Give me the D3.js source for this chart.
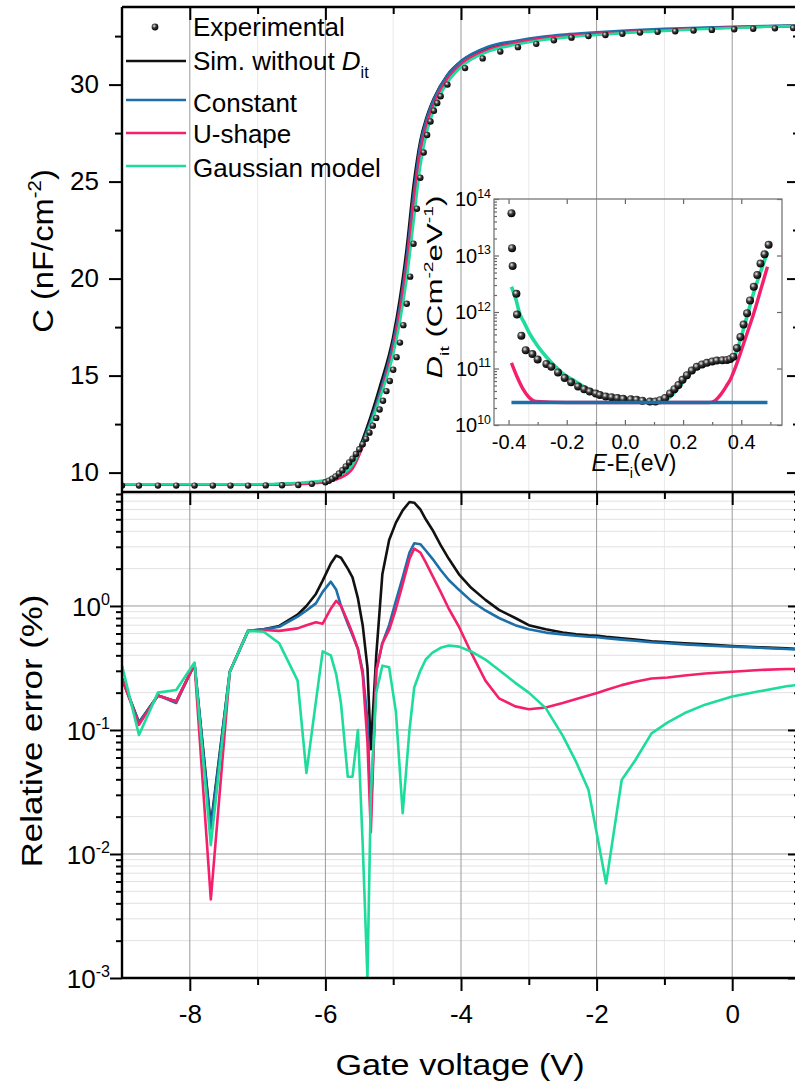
<!DOCTYPE html>
<html>
<head>
<meta charset="utf-8">
<script src="https://cdn.jsdelivr.net/npm/d3@7"></script>
<style>
  body { margin: 0; background: #fff; }
  svg { display: block; font-family: "Liberation Sans", Arial, sans-serif; }
</style>
</head>
<body>
<div id="chart"></div>
<script>
// ---- data ----
const seriesNames = ["Experimental", "Sim. without D_it", "Constant", "U-shape", "Gaussian model"];

// top panel: C-V curves (nF/cm^2)
const vTop = [-9, -8.5, -8, -7.5, -7, -6.5, -6.2, -6, -5.8, -5.6, -5.4, -5.2, -5.0, -4.9, -4.8, -4.7, -4.6, -4.5, -4.4, -4.2, -4.0, -3.6, -3.2, -2.8, -2.4, -2.0, -1.5, -1.0, -0.5, 0, 0.5, 1];
const cNoDit = [9.38, 9.38, 9.38, 9.38, 9.39, 9.42, 9.48, 9.58, 9.85, 10.45, 12.2, 14.4, 17.0, 19.0, 21.6, 24.8, 27.1, 28.4, 29.3, 30.5, 31.2, 31.9, 32.2, 32.42, 32.55, 32.65, 32.75, 32.83, 32.9, 32.96, 33.0, 33.03];
const cConst = [9.38, 9.38, 9.38, 9.38, 9.39, 9.42, 9.48, 9.58, 9.83, 10.4, 12.0, 14.1, 16.7, 18.6, 21.1, 24.3, 26.9, 28.3, 29.25, 30.5, 31.2, 31.95, 32.25, 32.47, 32.6, 32.7, 32.8, 32.87, 32.93, 32.98, 33.02, 33.05];
const cUshape = [9.38, 9.38, 9.38, 9.38, 9.38, 9.4, 9.44, 9.5, 9.7, 10.2, 11.8, 13.9, 16.4, 18.3, 20.7, 23.8, 26.5, 28.0, 29.0, 30.3, 31.05, 31.8, 32.15, 32.38, 32.52, 32.62, 32.72, 32.8, 32.88, 32.94, 32.99, 33.02];
const cGauss = [9.4, 9.4, 9.4, 9.4, 9.4, 9.45, 9.52, 9.62, 9.85, 10.4, 11.9, 13.8, 16.1, 17.8, 20.0, 22.9, 25.8, 27.6, 28.7, 30.1, 30.9, 31.7, 32.05, 32.3, 32.45, 32.56, 32.68, 32.77, 32.85, 32.92, 32.98, 33.02];

// experimental C-V points
const vExp = [-9.0, -8.75, -8.47, -8.2, -7.93, -7.66, -7.4, -7.14, -6.88, -6.64, -6.4, -6.2,
  -6.0, -5.95, -5.9, -5.85, -5.8, -5.75, -5.7, -5.65, -5.6, -5.55, -5.5, -5.45, -5.4, -5.35, -5.3, -5.25, -5.2, -5.15, -5.1, -5.05,
  -5.0, -4.95, -4.9, -4.85, -4.8, -4.75, -4.7, -4.65, -4.6, -4.55, -4.5, -4.45, -4.4, -4.35, -4.3,
  -4.2, -3.94, -3.68, -3.42, -3.16, -2.89, -2.63, -2.37, -2.12, -1.87, -1.62, -1.36, -1.1, -0.84, -0.57, -0.3, 0.03, 0.31, 0.63, 0.9];
const cExp = [9.33, 9.33, 9.33, 9.33, 9.33, 9.33, 9.33, 9.33, 9.34, 9.35, 9.36, 9.42,
  9.5, 9.58, 9.68, 9.8, 9.95, 10.12, 10.32, 10.52, 10.72, 10.96, 11.2, 11.46, 11.74, 12.06, 12.42, 12.82, 13.25, 13.7, 14.2, 14.72,
  15.3, 15.95, 16.7, 17.6, 18.7, 20.1, 21.8, 23.6, 25.2, 26.5, 27.4, 28.1, 28.65, 29.05, 29.4,
  30.0, 30.85, 31.35, 31.7, 31.93, 32.1, 32.28, 32.42, 32.5, 32.56, 32.62, 32.68, 32.72, 32.75, 32.79, 32.82, 32.85, 32.88, 32.9, 32.92];

// bottom panel: relative error (%)
const vErr = [-9, -8.75, -8.47, -8.2, -7.93, -7.69, -7.41, -7.14, -6.91, -6.68, -6.41, -6.28, -6.14, -6.04, -5.92, -5.84, -5.77, -5.67, -5.6, -5.52, -5.45, -5.38, -5.33, -5.25, -5.16, -5.06, -4.96, -4.86, -4.76, -4.69, -4.6, -4.52, -4.42, -4.3, -4.18, -4.03, -3.85, -3.64, -3.44, -3.2, -3.0, -2.75, -2.5, -2.3, -2.12, -1.98, -1.86, -1.63, -1.43, -1.19, -0.95, -0.7, -0.4, 0, 0.4, 0.8, 1.0];
const errNoDit = [0.26, 0.115, 0.19, 0.17, 0.34, 0.017, 0.295, 0.63, 0.65, 0.69, 0.85, 1.0, 1.25, 1.6, 2.2, 2.55, 2.45, 2.0, 1.7, 1.15, 0.7, 0.32, 0.07, 0.4, 1.8, 3.4, 4.7, 5.9, 6.9, 6.8, 6.0, 5.0, 4.1, 3.1, 2.4, 1.8, 1.4, 1.12, 0.93, 0.8, 0.7, 0.65, 0.61, 0.59, 0.58, 0.575, 0.565, 0.55, 0.535, 0.52, 0.51, 0.5, 0.49, 0.475, 0.465, 0.455, 0.45];
const errConst = [0.26, 0.115, 0.19, 0.165, 0.34, 0.016, 0.295, 0.63, 0.65, 0.68, 0.82, 0.92, 1.05, 1.3, 1.57, 1.35, 1.0, 0.72, 0.58, 0.45, 0.3, 0.12, 0.02, 0.3, 0.5, 0.7, 1.1, 1.7, 2.7, 3.2, 3.15, 2.8, 2.4, 1.95, 1.62, 1.35, 1.1, 0.92, 0.8, 0.7, 0.65, 0.61, 0.59, 0.575, 0.565, 0.56, 0.55, 0.535, 0.525, 0.51, 0.5, 0.49, 0.48, 0.47, 0.46, 0.45, 0.445];
const errUshape = [0.26, 0.11, 0.19, 0.17, 0.34, 0.0043, 0.295, 0.63, 0.64, 0.63, 0.66, 0.7, 0.74, 0.72, 0.95, 1.1, 1.0, 0.75, 0.6, 0.45, 0.28, 0.08, 0.015, 0.3, 0.5, 0.64, 0.95, 1.5, 2.4, 2.9, 2.7, 2.25, 1.75, 1.3, 0.95, 0.68, 0.42, 0.25, 0.18, 0.155, 0.147, 0.152, 0.165, 0.178, 0.19, 0.2, 0.21, 0.23, 0.245, 0.26, 0.265, 0.275, 0.285, 0.295, 0.305, 0.31, 0.31];
const errGauss = [0.33, 0.091, 0.2, 0.21, 0.35, 0.0118, 0.295, 0.63, 0.62, 0.5, 0.25, 0.045, 0.17, 0.43, 0.4, 0.28, 0.164, 0.042, 0.042, 0.1, 0.012, 0.001, 0.03, 0.2, 0.33, 0.32, 0.14, 0.0213, 0.1, 0.22, 0.3, 0.37, 0.42, 0.46, 0.48, 0.47, 0.43, 0.37, 0.305, 0.24, 0.2, 0.15, 0.09, 0.055, 0.033, 0.013, 0.0058, 0.0395, 0.057, 0.094, 0.115, 0.137, 0.16, 0.186, 0.205, 0.225, 0.232];

// inset: Dit vs E-Ei
const eExp = [-0.39, -0.388, -0.386, -0.373, -0.371, -0.356, -0.341, -0.318, -0.3, -0.27, -0.253, -0.23, -0.207, -0.185, -0.161, -0.14, -0.121, -0.1, -0.086, -0.066, -0.046, -0.026, -0.006, 0.02, 0.04, 0.06, 0.086, 0.105, 0.121, 0.138, 0.155, 0.17, 0.184, 0.198, 0.213, 0.23, 0.247, 0.265, 0.282, 0.3, 0.316, 0.335, 0.351, 0.362, 0.373, 0.385, 0.397, 0.408, 0.42, 0.43, 0.443, 0.455, 0.466, 0.48, 0.494];
const ditExp = [5.6e13, 1.35e13, 6.5e12, 2.1e12, 9e11, 3.8e11, 2.1e11, 1.8e11, 1.45e11, 1.2e11, 1.07e11, 8.5e10, 6.8e10, 5.7e10, 4.8e10, 4.3e10, 3.9e10, 3.6e10, 3.4e10, 3.2e10, 3.1e10, 3.0e10, 2.9e10, 2.85e10, 2.8e10, 2.7e10, 2.6e10, 2.6e10, 2.75e10, 3.0e10, 3.6e10, 4.3e10, 5.1e10, 6.3e10, 7.6e10, 9.2e10, 1.07e11, 1.18e11, 1.26e11, 1.33e11, 1.38e11, 1.4e11, 1.41e11, 1.48e11, 1.62e11, 2.3e11, 3.6e11, 6e11, 9.5e11, 1.6e12, 2.8e12, 4.5e12, 7.2e12, 1.05e13, 1.55e13];
const eGauss = [-0.39, -0.375, -0.362, -0.345, -0.328, -0.3, -0.27, -0.24, -0.213, -0.17, -0.132, -0.08, -0.017, 0.04, 0.098, 0.13, 0.16, 0.19, 0.22, 0.25, 0.28, 0.32, 0.355, 0.375, 0.395, 0.42, 0.445, 0.47, 0.49];
const ditGauss = [2.8e12, 1.7e12, 9.5e11, 6.3e11, 4.2e11, 2.5e11, 1.6e11, 1.1e11, 8.1e10, 5.9e10, 4.5e10, 3.5e10, 2.95e10, 2.7e10, 2.57e10, 2.65e10, 3.3e10, 5e10, 7.8e10, 1.05e11, 1.25e11, 1.36e11, 1.42e11, 1.6e11, 3.0e11, 8.5e11, 2.4e12, 5.8e12, 1.15e13];
const eUshape = [-0.39, -0.37, -0.35, -0.33, -0.305, -0.2, 0, 0.2, 0.29, 0.31, 0.33, 0.35, 0.362, 0.38, 0.397, 0.42, 0.443, 0.465, 0.49];
const ditUshape = [1.26e11, 7e10, 4.3e10, 3.1e10, 2.6e10, 2.5e10, 2.5e10, 2.5e10, 2.5e10, 2.7e10, 3.5e10, 5e10, 6.3e10, 1.05e11, 1.86e11, 4.2e11, 9.5e11, 2.3e12, 6.3e12];
const eConst = [-0.39, 0.49];
const ditConst = [2.5e10, 2.5e10];

// ---- layout ----
const W = 795, H = 1085;
const L = 122, R = 800, T = 7, MID = 492, B = 978;
const colors = { noDit: "#111111", constant: "#1c6fa8", ushape: "#f4206b", gauss: "#1ddc9c" };
const FONT = '"Liberation Sans", Arial, sans-serif';

const x = d3.scaleLinear().domain([-9, 1]).range([L, R]);
const yC = d3.scaleLinear().domain([9, 34]).range([MID, T]);
const yE = d3.scaleLog().domain([1e-3, 8.3]).range([B, MID]);
const xi = d3.scaleLinear().domain([-0.45, 0.54]).range([494, 782]);
const yi = d3.scaleLog().domain([1e10, 1e14]).range([425, 199]);

const svg = d3.select("#chart").append("svg").attr("width", W).attr("height", H);
const defs = svg.append("defs");
const ball = defs.append("radialGradient").attr("id", "ball").attr("cx", "38%").attr("cy", "35%").attr("r", "65%");
ball.append("stop").attr("offset", "0%").attr("stop-color", "#eeeeee");
ball.append("stop").attr("offset", "45%").attr("stop-color", "#3a3a3a");
ball.append("stop").attr("offset", "100%").attr("stop-color", "#000");
defs.append("clipPath").attr("id", "clipTop").append("rect")
  .attr("x", L).attr("y", T).attr("width", R - L).attr("height", MID - T);
defs.append("clipPath").attr("id", "clipBot").append("rect")
  .attr("x", L).attr("y", MID).attr("width", R - L).attr("height", B - MID);

// rich text helper for sub/superscripts
function rich(textSel, parts, size) {
  let shift = 0;
  parts.forEach(p => {
    const target = p.sup ? -0.42 * size : p.sub ? 0.3 * size : 0;
    textSel.append("tspan")
      .attr("dy", target - shift)
      .attr("font-size", (p.sup || p.sub) ? size * 0.62 : size)
      .attr("font-style", p.it ? "italic" : null)
      .text(p.t);
    shift = target;
  });
}

// ---- grid ----
const xMajor = [-8, -6, -4, -2, 0];
const xMinor = [-7, -5, -3, -1];
const grid = svg.append("g");
grid.selectAll(".gxm").data(xMinor).join("line")
  .attr("x1", d => x(d)).attr("x2", d => x(d)).attr("y1", T).attr("y2", B)
  .attr("stroke", "#e9e9e9").attr("stroke-width", 1);
const eMinor = [];
[-3, -2, -1, 0].forEach(e => { for (let k = 2; k <= 9; k++) { const v = k * Math.pow(10, e); if (v < 8.3) eMinor.push(v); } });
grid.selectAll(".gym").data(eMinor).join("line")
  .attr("x1", L).attr("x2", R).attr("y1", d => yE(d)).attr("y2", d => yE(d))
  .attr("stroke", "#e2e2e2").attr("stroke-width", 1);
grid.selectAll(".gyM").data([1e-2, 1e-1, 1]).join("line")
  .attr("x1", L).attr("x2", R).attr("y1", d => yE(d)).attr("y2", d => yE(d))
  .attr("stroke", "#9a9a9a").attr("stroke-width", 1);
grid.selectAll(".gxM").data(xMajor).join("line")
  .attr("x1", d => x(d)).attr("x2", d => x(d)).attr("y1", T).attr("y2", B)
  .attr("stroke", "#9a9a9a").attr("stroke-width", 1);

// ---- axes ----
function tidy(g, size) {
  g.select(".domain").remove();
  g.selectAll("line").attr("stroke", "#000").attr("stroke-width", 2);
  g.selectAll("text").attr("font-family", FONT).attr("font-size", size || 26).attr("fill", "#000");
  g.attr("font-family", null);
}
// top panel
svg.append("g").attr("transform", `translate(${L},0)`)
  .call(d3.axisLeft(yC).tickValues([10, 15, 20, 25, 30]).tickSize(13).tickPadding(10)).call(tidy);
svg.append("g").attr("transform", `translate(${L},0)`)
  .call(d3.axisLeft(yC).tickValues([12.5, 17.5, 22.5, 27.5, 32.5]).tickSize(7).tickFormat("")).call(tidy);
svg.append("g").attr("transform", `translate(${R},0)`)
  .call(d3.axisLeft(yC).tickValues([10, 15, 20, 25, 30]).tickSize(13).tickFormat("")).call(tidy);
svg.append("g").attr("transform", `translate(${R},0)`)
  .call(d3.axisLeft(yC).tickValues([12.5, 17.5, 22.5, 27.5, 32.5]).tickSize(7).tickFormat("")).call(tidy);
[T, MID].forEach(yy => {
  svg.append("g").attr("transform", `translate(0,${yy})`)
    .call(d3.axisBottom(x).tickValues(xMajor).tickSize(13).tickFormat("")).call(tidy);
  svg.append("g").attr("transform", `translate(0,${yy})`)
    .call(d3.axisBottom(x).tickValues(xMinor).tickSize(7).tickFormat("")).call(tidy);
});
// bottom panel
svg.append("g").attr("transform", `translate(0,${B})`)
  .call(d3.axisBottom(x).tickValues(xMajor).tickSize(13).tickPadding(14).tickFormat(d => String(d))).call(tidy);
svg.append("g").attr("transform", `translate(0,${B})`)
  .call(d3.axisBottom(x).tickValues(xMinor).tickSize(7).tickFormat("")).call(tidy);
const eMajor = [1e-3, 1e-2, 1e-1, 1];
svg.append("g").attr("transform", `translate(${L},0)`)
  .call(d3.axisLeft(yE).tickValues(eMajor).tickSize(12).tickFormat("")).call(tidy);
svg.append("g").attr("transform", `translate(${L},0)`)
  .call(d3.axisLeft(yE).tickValues(eMinor).tickSize(6).tickFormat("")).call(tidy);
svg.append("g").attr("transform", `translate(${R},0)`)
  .call(d3.axisLeft(yE).tickValues(eMajor).tickSize(12).tickFormat("")).call(tidy);
svg.append("g").attr("transform", `translate(${R},0)`)
  .call(d3.axisLeft(yE).tickValues(eMinor).tickSize(6).tickFormat("")).call(tidy);
eMajor.forEach(v => {
  const t = svg.append("text").attr("x", 110).attr("y", yE(v) + 10)
    .attr("text-anchor", "end").attr("font-family", FONT).attr("fill", "#000");
  rich(t, [{ t: "10" }, { t: String(Math.round(Math.log10(v))), sup: true }], 26);
});

// ---- curves ----
const lineTop = d3.line().x(d => x(d[0])).y(d => yC(d[1])).curve(d3.curveMonotoneX);
const lineBot = d3.line().x(d => x(d[0])).y(d => yE(d[1]));
const topSeries = [[cNoDit, colors.noDit], [cConst, colors.constant], [cUshape, colors.ushape], [cGauss, colors.gauss]];
const gTop = svg.append("g").attr("clip-path", "url(#clipTop)");
topSeries.forEach(([vals, col]) => {
  gTop.append("path").datum(vTop.map((v, i) => [v, vals[i]]))
    .attr("d", lineTop).attr("fill", "none").attr("stroke", col).attr("stroke-width", 2.6);
});
gTop.selectAll("circle").data(vExp.map((v, i) => [v, cExp[i]])).join("circle")
  .attr("cx", d => x(d[0])).attr("cy", d => yC(d[1])).attr("r", 3.2).attr("fill", "url(#ball)");

const botSeries = [[errNoDit, colors.noDit], [errConst, colors.constant], [errUshape, colors.ushape], [errGauss, colors.gauss]];
const gBot = svg.append("g").attr("clip-path", "url(#clipBot)");
botSeries.forEach(([vals, col]) => {
  gBot.append("path").datum(vErr.map((v, i) => [v, vals[i]]))
    .attr("d", lineBot).attr("fill", "none").attr("stroke", col).attr("stroke-width", 2.6)
    .attr("stroke-linejoin", "round");
});

// ---- spines ----
const sp = svg.append("g").attr("stroke", "#000").attr("stroke-width", 2.4);
sp.append("line").attr("x1", L).attr("x2", L).attr("y1", T).attr("y2", B);
sp.append("line").attr("x1", R).attr("x2", R).attr("y1", T).attr("y2", B);
[T, MID, B].forEach(yy => sp.append("line").attr("x1", L).attr("x2", R).attr("y1", yy).attr("y2", yy));

// ---- legend ----
const legRows = [
  { y: 27, base: 36, type: "dot", parts: [{ t: "Experimental" }] },
  { y: 61, base: 70, col: colors.noDit, parts: [{ t: "Sim. without " }, { t: "D", it: true }, { t: "it", sub: true }] },
  { y: 100, base: 112, col: colors.constant, parts: [{ t: seriesNames[2] }] },
  { y: 133, base: 143, col: colors.ushape, parts: [{ t: seriesNames[3] }] },
  { y: 166, base: 177, col: colors.gauss, parts: [{ t: seriesNames[4] }] }
];
legRows.forEach(r => {
  if (r.type === "dot") {
    svg.append("circle").attr("cx", 155).attr("cy", r.y).attr("r", 3.4).attr("fill", "url(#ball)");
  } else {
    svg.append("line").attr("x1", 126).attr("x2", 186).attr("y1", r.y).attr("y2", r.y)
      .attr("stroke", r.col).attr("stroke-width", 2.6);
  }
  const t = svg.append("text").attr("x", 193).attr("y", r.base).attr("font-family", FONT).attr("fill", "#000");
  rich(t, r.parts, 26);
});

// ---- axis titles ----
const xt = svg.append("text").attr("text-anchor", "middle").attr("font-family", FONT).attr("fill", "#000")
  .attr("transform", "translate(460,1075) scale(1.18,1)");
rich(xt, [{ t: "Gate voltage (V)" }], 29);
const yt1 = svg.append("text").attr("text-anchor", "middle").attr("font-family", FONT).attr("fill", "#000")
  .attr("transform", "translate(53,251) rotate(-90) scale(1.13,1)");
rich(yt1, [{ t: "C (nF/cm" }, { t: "-2", sup: true }, { t: ")" }], 29);
const yt2 = svg.append("text").attr("text-anchor", "middle").attr("font-family", FONT).attr("fill", "#000")
  .attr("transform", "translate(42,731) rotate(-90) scale(1.2,1)");
rich(yt2, [{ t: "Relative error (%)" }], 29);

// ---- inset ----
const inset = svg.append("g");
const ixMajor = [-0.4, -0.2, 0.0, 0.2, 0.4], ixMinor = [-0.3, -0.1, 0.1, 0.3, 0.5];
const iyMajor = [1e10, 1e11, 1e12, 1e13, 1e14];
const iyMinor = [];
[10, 11, 12, 13].forEach(e => { for (let k = 2; k <= 9; k++) iyMinor.push(k * Math.pow(10, e)); });
function tidyIn(g) {
  g.select(".domain").remove();
  g.selectAll("line").attr("stroke", "#666").attr("stroke-width", 1.2);
  g.selectAll("text").attr("font-family", FONT).attr("font-size", 20).attr("fill", "#000");
  g.attr("font-family", null);
}
inset.append("g").attr("transform", "translate(0,425)")
  .call(d3.axisBottom(xi).tickValues(ixMajor).tickSize(-5).tickPadding(10).tickFormat(d => d.toFixed(1))).call(tidyIn);
inset.append("g").attr("transform", "translate(0,425)")
  .call(d3.axisBottom(xi).tickValues(ixMinor).tickSize(-3).tickFormat("")).call(tidyIn);
inset.append("g").attr("transform", "translate(0,199)")
  .call(d3.axisTop(xi).tickValues(ixMajor).tickSize(-5).tickFormat("")).call(tidyIn);
inset.append("g").attr("transform", "translate(494,0)")
  .call(d3.axisLeft(yi).tickValues(iyMajor).tickSize(-5).tickFormat("")).call(tidyIn);
inset.append("g").attr("transform", "translate(494,0)")
  .call(d3.axisLeft(yi).tickValues(iyMinor).tickSize(-3).tickFormat("")).call(tidyIn);
inset.append("g").attr("transform", "translate(782,0)")
  .call(d3.axisRight(yi).tickValues(iyMajor).tickSize(-5).tickFormat("")).call(tidyIn);
inset.append("rect").attr("x", 494).attr("y", 199).attr("width", 782 - 494).attr("height", 425 - 199)
  .attr("fill", "none").attr("stroke", "#777").attr("stroke-width", 1.3);
iyMajor.forEach(v => {
  const t = inset.append("text").attr("x", 491).attr("y", yi(v) + 7)
    .attr("text-anchor", "end").attr("font-family", FONT).attr("fill", "#000");
  rich(t, [{ t: "10" }, { t: String(Math.round(Math.log10(v))), sup: true }], 20);
});
const lineIn = d3.line().x(d => xi(d[0])).y(d => yi(d[1]));
const lineInS = d3.line().x(d => xi(d[0])).y(d => yi(d[1])).curve(d3.curveMonotoneX);
inset.append("path").datum(eUshape.map((e, i) => [e, ditUshape[i]]))
  .attr("d", lineInS).attr("fill", "none").attr("stroke", colors.ushape).attr("stroke-width", 3.4);
inset.append("path").datum(eGauss.map((e, i) => [e, ditGauss[i]]))
  .attr("d", lineInS).attr("fill", "none").attr("stroke", colors.gauss).attr("stroke-width", 3.6);
inset.selectAll(".dot").data(eExp.map((e, i) => [e, ditExp[i]])).join("circle")
  .attr("cx", d => xi(d[0])).attr("cy", d => yi(d[1])).attr("r", 4).attr("fill", "url(#ball)");
inset.append("path").datum(eConst.map((e, i) => [e, ditConst[i]]))
  .attr("d", lineIn).attr("fill", "none").attr("stroke", colors.constant).attr("stroke-width", 3.4);

const ixt = inset.append("text").attr("x", 634).attr("y", 471).attr("text-anchor", "middle")
  .attr("font-family", FONT).attr("fill", "#000");
rich(ixt, [{ t: "E", it: true }, { t: "-E" }, { t: "i", sub: true }, { t: "(eV)" }], 23);
const iyt = inset.append("text").attr("text-anchor", "middle").attr("font-family", FONT).attr("fill", "#000")
  .attr("transform", "translate(442,287) rotate(-90) scale(1.42,1)");
rich(iyt, [{ t: "D", it: true }, { t: "it", sub: true }, { t: " (Cm" }, { t: "-2", sup: true }, { t: "eV" }, { t: "-1", sup: true }, { t: ")" }], 22);
</script>
</body>
</html>
